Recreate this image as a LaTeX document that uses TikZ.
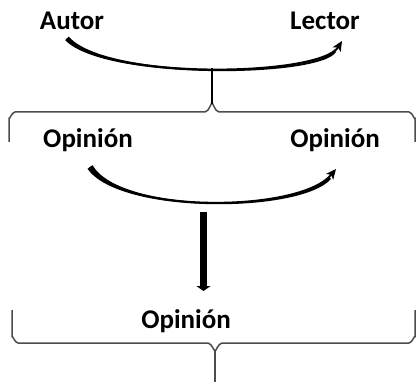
\documentclass[tikz,border=0pt]{standalone}
\usepackage{fontspec}
\setmainfont{Carlito}
\usetikzlibrary{arrows.meta}
\begin{document}
\begin{tikzpicture}[x=1pt,y=-1pt,
  lbl/.style={font=\fontsize{27}{31}\selectfont\bfseries, inner sep=0pt, anchor=center},
  bracestyle/.style={draw=black!70, line width=1.5pt, line join=round},
  curvearrow/.style={draw=black, line width=2pt, -{Stealth[length=10pt,width=9pt,inset=2.5pt]}},
  taper/.style={fill=black},
  downarrow/.style={draw=black, line width=6.5pt, -{Triangle[length=5pt,width=14pt]}}]
\useasboundingbox (0,0) rectangle (417,382);
% texts
\node[lbl] (autor) at (72,21) {Autor};
\node[lbl] (lector) at (325,21) {Lector};
\node[lbl] (op1) at (88,140) {Opinión};
\node[lbl] (op2) at (335,140) {Opinión};
\node[lbl] (op3) at (186,321) {Opinión};
% anchor coordinates
\coordinate (c1s) at (67,38.5);
\coordinate (c1e) at (342,41);
\coordinate (c1m) at (212,68);
\coordinate (tip1) at (212,104);
\coordinate (c2s) at (90,167);
\coordinate (c2e) at (336,169);
\coordinate (d1) at (203.5,212);
\coordinate (d2) at (203.5,291);
\coordinate (tip2) at (215,350);
\coordinate (tail2) at (215,382);
% curved arrows
\draw[curvearrow] (c1s) .. controls (105,80) and (320,77) .. (c1e);
\fill[taper] (68.8,36.6) .. controls (105.5,79.3) and (320,76.5) .. (334,50)
  -- (336,52) .. controls (320,78) and (104.5,80.7) .. (65.2,40.2) -- cycle;
\draw[curvearrow] (c2s) .. controls (120,214) and (300,213) .. (c2e);
\fill[taper] (92.5,165.2) .. controls (120.5,213.3) and (300,212.5) .. (329,177)
  -- (331,179) .. controls (300,213.7) and (119.5,214.7) .. (87.5,168.8) -- cycle;
% top brace
\draw[bracestyle] (9,142) -- (9,118) to[out=-90,in=180] (15,112) -- (205,112) to[out=0,in=90] (tip1);
\draw[bracestyle] (tip1) to[out=90,in=180] (219,112) -- (409,112) to[out=0,in=-90] (415,118) -- (415,142);
\draw[draw=black, line width=1.4pt] (c1m) -- (tip1);
% down arrow
\draw[downarrow] (d1) -- (d2);
% bottom brace
\draw[bracestyle] (12,310) -- (12,337) to[out=90,in=180] (18,343) -- (208,343) to[out=0,in=-90] (tip2);
\draw[bracestyle] (tip2) to[out=-90,in=180] (222,343) -- (409,343) to[out=0,in=90] (415,337) -- (415,310);
\draw[bracestyle] (tip2) -- (tail2);
\end{tikzpicture}
\end{document}
